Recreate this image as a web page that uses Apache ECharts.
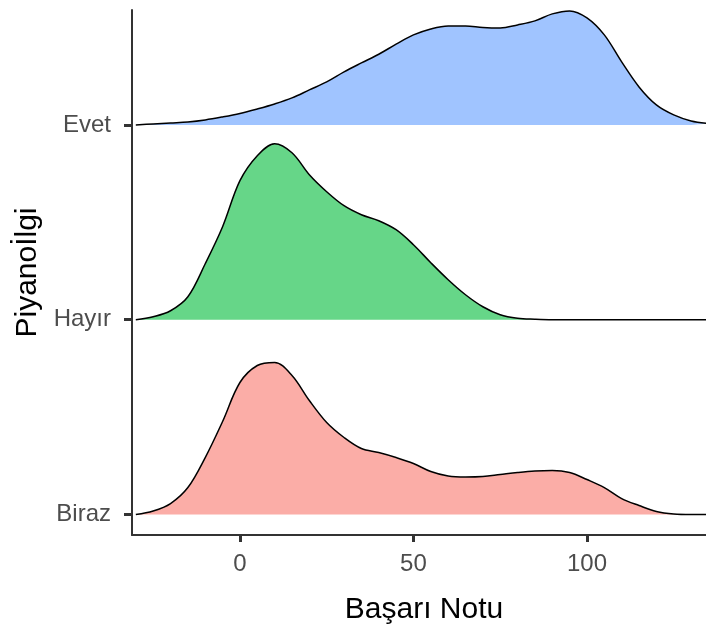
<!DOCTYPE html>
<html>
<head>
<meta charset="utf-8">
<script src="https://cdn.jsdelivr.net/npm/echarts@6/dist/echarts.min.js"></script>
<style>
html, body { margin: 0; padding: 0; background: #fff; }
#chart { width: 706px; height: 632px; }
</style>
</head>
<body>
<div id="chart"></div>
<script>
// x ekseni: Başarı Notu, 5'er adımla
var notlar = [-30, -25, -20, -15, -10, -5, 0, 5, 10, 15, 20, 25, 30, 35, 40, 45, 50, 55, 60,
    65, 70, 75, 80, 85, 90, 95, 100, 105, 110, 115, 120, 125, 130, 135];

// gruplar (alttan üste) ve seviyeleri
var gruplar = ['Biraz', 'Hayır', 'Evet'];
var seviyeler = [1, 2, 3];

// yoğunluk yükseklikleri (piksel cinsinden)
var birazYog = [0, 3.5, 11, 27, 57, 93, 132, 149, 152, 139, 114, 92, 77, 66, 62, 57, 51, 43, 38.5,
    37.5, 38, 40, 42, 43.5, 44, 42, 35, 27, 16, 9, 3, 0.5, 0, 0];
var hayirYog = [0, 3, 9, 23, 56, 93, 139, 164, 176, 167, 145, 128, 114, 105, 99, 90, 75, 57, 40,
    25, 13, 5, 1.5, 0.5, 0, 0, 0, 0, 0, 0, 0, 0, 0, 0];
var evetYog = [0, 1, 2, 3, 5, 8, 11.5, 16, 21, 27, 35, 43, 53, 62, 70.7, 80.7, 90, 96, 99,
    99, 97.5, 97, 100, 104, 111, 114, 107, 90, 63, 38, 20, 10, 4, 1.5];

var renkler = ['rgba(248,118,109,0.6)', 'rgba(0,186,56,0.6)', 'rgba(97,156,255,0.6)'];
var OLCEK = 194.75; // bir seviye aralığının piksel karşılığı

var yogunluklar = [birazYog, hayirYog, evetYog];
var series = [];
for (var i = 0; i < gruplar.length; i++) {
    var ust = [];
    for (var j = 0; j < notlar.length; j++) {
        ust.push([notlar[j], seviyeler[i] + yogunluklar[i][j] / OLCEK]);
    }
    series.push({
        type: 'line', data: ust, symbol: 'none', smooth: 0.35, silent: true,
        lineStyle: { color: '#000', width: 1.5 },
        areaStyle: { color: renkler[i], opacity: 1, origin: seviyeler[i] },
        z: 3 - i
    });
}

var chart = echarts.init(document.getElementById('chart'));
chart.setOption({
    animation: false,
    backgroundColor: '#fff',
    grid: { left: 132, right: 0, top: 10, bottom: 97 },
    xAxis: {
        type: 'value', min: -31.1, max: 134.3,
        name: 'Başarı Notu', nameLocation: 'middle', nameGap: 60,
        nameTextStyle: { fontFamily: 'Liberation Sans', fontSize: 30, color: '#000', padding: [0, 0, 0, 10] },
        axisLine: { show: true, onZero: false, lineStyle: { color: '#333', width: 2 } },
        axisTick: { show: true, length: 7, customValues: [0, 50, 100], lineStyle: { color: '#333', width: 3 } },
        axisLabel: { customValues: [0, 50, 100], margin: 17, fontFamily: 'Liberation Sans', fontSize: 24, color: '#4d4d4d' },
        splitLine: { show: false }
    },
    yAxis: {
        type: 'value', min: 0.895, max: 3.59,
        name: 'Piyanoİlgi', nameLocation: 'middle', nameGap: 86,
        nameTextStyle: { fontFamily: 'Liberation Sans', fontSize: 30, color: '#000' },
        axisLine: { show: true, onZero: false, lineStyle: { color: '#333', width: 2 } },
        axisTick: { show: true, length: 8, customValues: seviyeler, lineStyle: { color: '#333', width: 3 } },
        axisLabel: {
            customValues: seviyeler, margin: 21, fontFamily: 'Liberation Sans', fontSize: 24, color: '#4d4d4d',
            formatter: function (v) { return gruplar[seviyeler.indexOf(v)]; }
        },
        splitLine: { show: false }
    },
    series: series
});
</script>
</body>
</html>
